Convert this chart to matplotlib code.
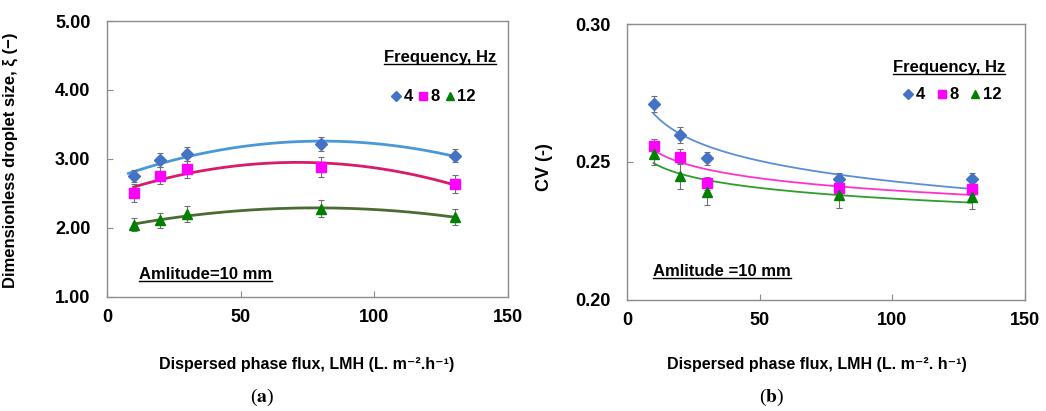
import numpy as np
import matplotlib
matplotlib.use("Agg")
import matplotlib.pyplot as plt
from matplotlib.lines import Line2D

plt.rcParams['font.family'] = ['Liberation Sans', 'DejaVu Sans']
plt.rcParams['mathtext.fontset'] = 'stix'

# data
flux = np.array([10, 20, 30, 80, 130])
freqs = ['4', '8', '12']

# (a) dimensionless droplet size
xi_4 = [2.75, 2.99, 3.07, 3.22, 3.05]
xi_8 = [2.51, 2.76, 2.85, 2.89, 2.64]
xi_12 = [2.05, 2.11, 2.20, 2.28, 2.16]
xi_err_4 = [0.09, 0.10, 0.10, 0.10, 0.10]
xi_err_8 = [0.13, 0.125, 0.12, 0.145, 0.135]
xi_err_12 = [0.10, 0.11, 0.115, 0.12, 0.11]

# (b) CV
cv_4 = [0.2709, 0.2597, 0.2513, 0.2437, 0.2437]
cv_8 = [0.2559, 0.2519, 0.2423, 0.2405, 0.2402]
cv_12 = [0.2528, 0.2449, 0.2390, 0.2380, 0.2374]
cv_err_4 = [0.0029, 0.0028, 0.0025, 0.0022, 0.0024]
cv_err_8 = [0.0024, 0.0027, 0.0024, 0.0022, 0.0020]
cv_err_12 = [0.0040, 0.0047, 0.0045, 0.0046, 0.0045]

markers = ['D', 's', '^']
mcolors = ['#4472C4', '#FF00FF', '#008000']
line_a = ['#4A98D6', '#D81B6A', '#4B6B33']
line_b = ['#5B8DD8', '#FF33CC', '#2E9E2E']
msizes = [6, 7.5, 7.5]

fig = plt.figure(figsize=(10.46, 4.11), dpi=100)
ax1 = fig.add_axes([0.1023, 0.2774, 0.3834, 0.6715])
ax2 = fig.add_axes([0.5994, 0.2701, 0.3805, 0.6715])

underlined = []

def style_axes(ax):
    for s in ax.spines.values():
        s.set_color('#8C8C8C')
        s.set_linewidth(1.0)
    ax.tick_params(direction='in', length=4, color='#8C8C8C', labelsize=13)
    ax.tick_params(axis='y', pad=12)
    ax.tick_params(axis='x', pad=9)
    for lab in ax.get_xticklabels() + ax.get_yticklabels():
        lab.set_fontweight('bold')
    ax.set_xlim(0, 150)
    ax.set_xticks([0, 50, 100, 150])


# subplot (a) - quadratic trend lines
ys = [xi_4, xi_8, xi_12]
errs = [xi_err_4, xi_err_8, xi_err_12]
for i in range(3):
    c = np.polyfit(flux, ys[i], 2)
    x0 = 8 if i == 0 else 10
    xx = np.linspace(x0, 130, 200)
    ax1.plot(xx, np.polyval(c, xx), color=line_a[i], lw=2.0, zorder=2)
    ax1.errorbar(flux, ys[i], yerr=errs[i], fmt='none', ecolor='#707070',
                 elinewidth=0.8, capsize=2.5, capthick=0.8, zorder=3)
    ax1.plot(flux, ys[i], ls='none', marker=markers[i], ms=msizes[i],
             color=mcolors[i], label=freqs[i], zorder=4)
ax1.set_ylim(1.0, 5.0)
ax1.set_yticks([1, 2, 3, 4, 5])
ax1.yaxis.set_major_formatter(plt.FormatStrFormatter('%.2f'))
style_axes(ax1)
ax1.set_ylabel('Dimensionless droplet size, ξ (−)', fontsize=12,
               fontweight='bold')
ax1.yaxis.set_label_coords(-0.222, 0.496)
underlined.append(ax1.text(0.97, 0.866, 'Frequency, Hz', transform=ax1.transAxes,
                           ha='right', va='center', fontsize=12, fontweight='bold'))
underlined.append(ax1.text(0.08, 0.083, 'Amlitude=10 mm', transform=ax1.transAxes,
                           ha='left', va='center', fontsize=12, fontweight='bold'))
leg1 = ax1.legend(loc='center right', bbox_to_anchor=(0.92, 0.725), ncol=3,
                  frameon=False, handlelength=0.6, handletextpad=0.15,
                  columnspacing=0.3, borderpad=0, borderaxespad=0,
                  prop={'size': 12, 'weight': 'bold'}, markerscale=0.85)

# subplot (b) - logarithmic trend lines
ys = [cv_4, cv_8, cv_12]
errs = [cv_err_4, cv_err_8, cv_err_12]
for i in range(3):
    b, a = np.polyfit(np.log(flux), ys[i], 1)
    xx = np.linspace(10, 130, 200)
    ax2.plot(xx, a + b * np.log(xx), color=line_b[i], lw=1.3, zorder=2)
    ax2.errorbar(flux, ys[i], yerr=errs[i], fmt='none', ecolor='#707070',
                 elinewidth=0.8, capsize=2.5, capthick=0.8, zorder=3)
    ax2.plot(flux, ys[i], ls='none', marker=markers[i], ms=msizes[i],
             color=mcolors[i], label=freqs[i], zorder=4)
ax2.set_ylim(0.20, 0.30)
ax2.set_yticks([0.20, 0.25, 0.30])
ax2.yaxis.set_major_formatter(plt.FormatStrFormatter('%.2f'))
style_axes(ax2)
ax2.set_ylabel('CV (-)', fontsize=13, fontweight='bold')
ax2.yaxis.set_label_coords(-0.186, 0.48)
underlined.append(ax2.text(0.95, 0.844, 'Frequency, Hz', transform=ax2.transAxes,
                           ha='right', va='center', fontsize=12, fontweight='bold'))
underlined.append(ax2.text(0.065, 0.105, 'Amlitude =10 mm', transform=ax2.transAxes,
                           ha='left', va='center', fontsize=12, fontweight='bold'))
leg2 = ax2.legend(loc='center right', bbox_to_anchor=(0.94, 0.743), ncol=3,
                  frameon=False, handlelength=0.6, handletextpad=0.15,
                  columnspacing=0.7, borderpad=0, borderaxespad=0,
                  prop={'size': 12, 'weight': 'bold'}, markerscale=0.85)

# x labels and panel letters
fig.text(307 / 1046, 1 - 364 / 411, 'Dispersed phase flux, LMH (L. m⁻².h⁻¹)',
         ha='center', va='center', fontsize=11.5, fontweight='bold')
fig.text(817 / 1046, 1 - 364 / 411, 'Dispersed phase flux, LMH (L. m⁻². h⁻¹)',
         ha='center', va='center', fontsize=11.5, fontweight='bold')
fig.text(262 / 1046, 1 - 397 / 411, r'($\mathbf{a}$)', ha='center', va='center',
         fontsize=14, family='Liberation Serif')
fig.text(772 / 1046, 1 - 397 / 411, r'($\mathbf{b}$)', ha='center', va='center',
         fontsize=14, family='Liberation Serif')

# underline the in-plot labels
fig.canvas.draw()
r = fig.canvas.get_renderer()
for t in underlined:
    bb = t.get_window_extent(r)
    yline = (bb.y0 + 1) / fig.bbox.height
    fig.add_artist(Line2D([bb.x0 / fig.bbox.width, bb.x1 / fig.bbox.width],
                          [yline, yline], color='black', lw=1.0))

fig.savefig('out.png', dpi=100)
